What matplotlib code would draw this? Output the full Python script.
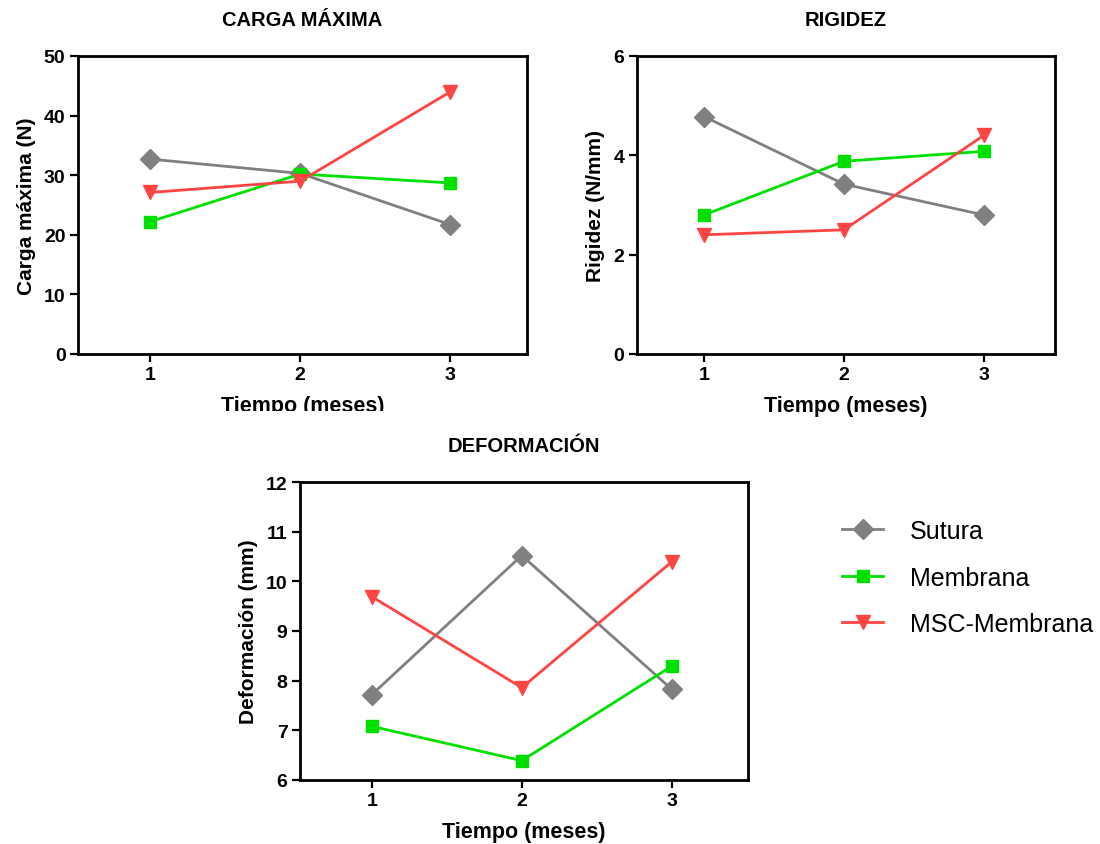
import matplotlib
matplotlib.use('Agg')
import matplotlib.pyplot as plt
from matplotlib.patches import Rectangle

plt.rcParams['font.family'] = ['Liberation Sans', 'DejaVu Sans']

meses = [1, 2, 3]
grupos = ['Sutura', 'Membrana', 'MSC-Membrana']

# valores
carga_sutura = [32.7, 30.3, 21.7]
carga_membrana = [22.2, 30.2, 28.7]
carga_msc = [27.1, 29.0, 44.0]

rigidez_sutura = [4.78, 3.42, 2.80]
rigidez_membrana = [2.80, 3.88, 4.08]
rigidez_msc = [2.40, 2.50, 4.40]

deform_sutura = [7.72, 10.52, 7.83]
deform_membrana = [7.08, 6.39, 8.29]
deform_msc = [9.69, 7.86, 10.39]

colores = ['#808080', '#00E000', '#FF4444']
marcadores = ['D', 's', 'v']
tamanos = [10, 9, 10]

W, H = 1100, 845
fig = plt.figure(figsize=(W / 100, H / 100), dpi=100)


def px_axes(left, top, right, bottom):
    return fig.add_axes([left / W, 1 - bottom / H, (right - left) / W, (bottom - top) / H])


def dibujar(ax, series, titulo, ylabel, ylim, yticks):
    for vals, c, m, ms, nombre in zip(series, colores, marcadores, tamanos, grupos):
        ax.plot(meses, vals, color=c, marker=m, markersize=ms, linewidth=2,
                label=nombre, clip_on=False)
    ax.set_xlim(0.52, 3.51)
    ax.set_ylim(*ylim)
    ax.set_xticks(meses)
    ax.set_yticks(yticks)
    for s in ax.spines.values():
        s.set_linewidth(2)
    ax.tick_params(direction='out', length=6, width=1.6, labelsize=14, pad=3)
    for lab in ax.get_xticklabels() + ax.get_yticklabels():
        lab.set_fontweight('bold')
    ax.set_title(titulo, fontsize=14.5, fontweight='bold', pad=22)
    ax.set_ylabel(ylabel, fontsize=15, fontweight='bold', labelpad=6)
    ax.set_xlabel('Tiempo (meses)', fontsize=15.5, fontweight='bold', labelpad=8)


ax1 = px_axes(78, 57, 527, 355)
dibujar(ax1, [carga_sutura, carga_membrana, carga_msc], 'CARGA MÁXIMA',
        'Carga máxima (N)', (0, 50), [0, 10, 20, 30, 40, 50])

ax2 = px_axes(637, 57, 1055, 355)
dibujar(ax2, [rigidez_sutura, rigidez_membrana, rigidez_msc], 'RIGIDEZ',
        'Rigidez (N/mm)', (0, 6), [0, 2, 4, 6])

ax3 = px_axes(300, 483, 748, 781)
dibujar(ax3, [deform_sutura, deform_membrana, deform_msc], 'DEFORMACIÓN',
        'Deformación (mm)', (6, 12), [6, 7, 8, 9, 10, 11, 12])

ax3.legend(loc='upper left', bbox_to_anchor=(842 / W, 1 - 520 / H),
           bbox_transform=fig.transFigure, frameon=False, fontsize=18,
           handlelength=1.65, handletextpad=1.05, labelspacing=0.9,
           borderpad=0, borderaxespad=0)

# en el original la etiqueta x del primer panel aparece recortada por abajo
fig.patches.append(Rectangle((150 / W, 1 - 426 / H), 300 / W, 14 / H,
                             transform=fig.transFigure, facecolor='white',
                             edgecolor='none', zorder=10))

fig.savefig('out.png', dpi=100)
